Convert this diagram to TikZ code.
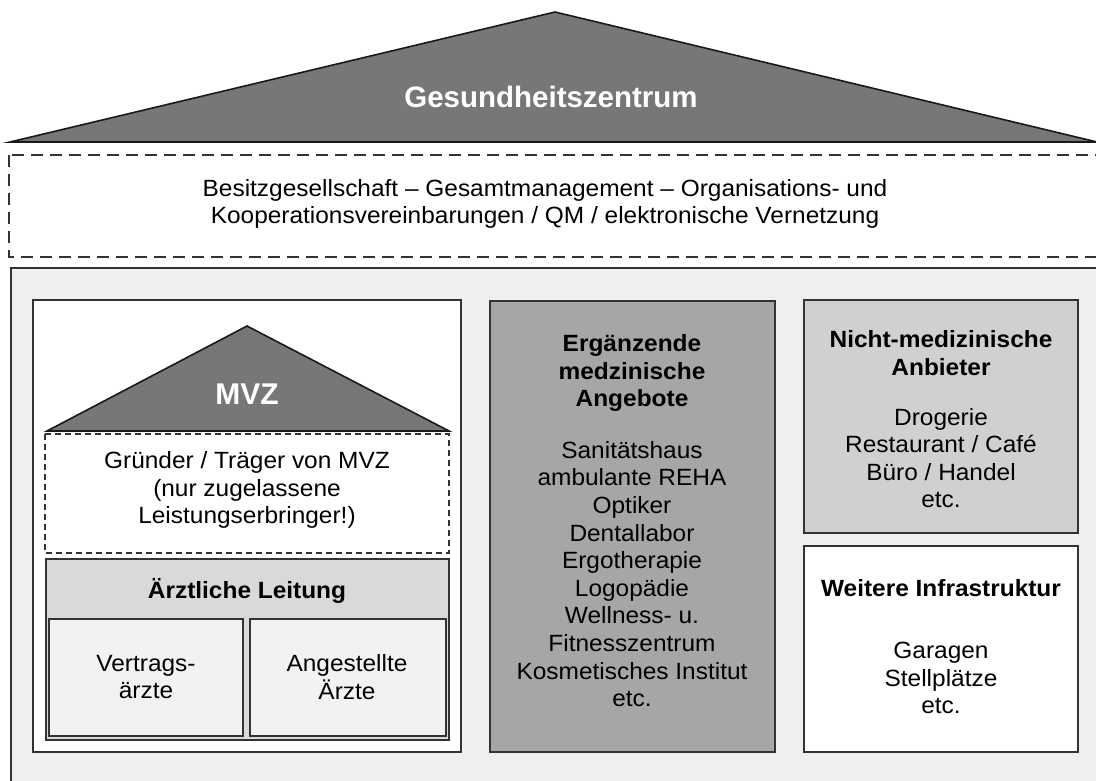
\documentclass[tikz,border=0pt]{standalone}
\usepackage{fontspec}
\setmainfont[FakeStretch=1.04]{Liberation Sans}
\newfontfamily\titlefont{Liberation Sans}
\begin{document}
\begin{tikzpicture}[x=1pt,y=-1pt,
  lbl/.style={align=center,inner sep=0pt,font=\fontsize{23.5}{27.6}\selectfont},
  blbl/.style={lbl,font=\fontsize{23.5}{27.6}\selectfont\bfseries},
  roofline/.style={draw=black!90,line width=1.6pt,fill=roofgray,line join=miter},
  boxline/.style={draw=black!80,line width=1.8pt},
]
\definecolor{roofgray}{HTML}{777777}
\definecolor{bggray}{HTML}{EFEFEF}
\definecolor{midgray}{HTML}{A6A6A6}
\definecolor{ltgray}{HTML}{D0D0D0}
\definecolor{hdgray}{HTML}{D9D9D9}
\definecolor{cellgray}{HTML}{F2F2F2}
\useasboundingbox (0,0) rectangle (1096,781);
\clip (0,0) rectangle (1096,781);
\fill[white] (0,0) rectangle (1096,781);
% main roof
\draw[roofline] (10,142) -- (555,12) -- (1097,142) -- cycle;
\node[font=\titlefont\fontsize{29.5}{34}\selectfont\bfseries,text=white] (title) at (551,97) {Gesundheitszentrum};
% dashed management box
\draw[draw=black!80,line width=1.8pt,dash pattern=on 12pt off 7pt] (9,155) rectangle (1102,257);
\node[lbl] (mgmt) at (545,204) {Besitzgesellschaft -- Gesamtmanagement -- Organisations- und\\Kooperationsvereinbarungen / QM / elektronische Vernetzung};
% big gray area
\draw[boxline,fill=bggray] (11,268) rectangle (1110,800);
% MVZ outer box
\draw[boxline,fill=white,line width=1.5pt] (33,300) rectangle (461,752);
\draw[roofline] (47,431) -- (247,326) -- (449,431) -- cycle;
\node[font=\titlefont\fontsize{30}{34}\selectfont\bfseries,text=white] (mvz) at (247,394) {MVZ};
\draw[draw=black!80,line width=1.4pt,dash pattern=on 6pt off 4pt,fill=white] (45,434) rectangle (449,553);
\node[lbl] (gruender) at (247,490) {Gründer / Träger von MVZ\\(nur zugelassene\\Leistungserbringer!)};
\draw[draw=black!80,line width=2.4pt,fill=hdgray] (46,559) rectangle (449,740);
\node[blbl] (leitung) at (247,591) {Ärztliche Leitung};
\draw[draw=black!80,line width=1.8pt,fill=cellgray] (49,619) rectangle (243,736);
\draw[draw=black!80,line width=1.8pt,fill=cellgray] (250,619) rectangle (446,736);
\node[lbl] (vertrag) at (146,677) {Vertrags-\\ärzte};
\node[lbl] (angest) at (347,677) {Angestellte\\Ärzte};
% middle box
\draw[boxline,fill=midgray] (490,301) rectangle (775,752);
\node[blbl] (ergtitle) at (632,373) {Ergänzende\\medzinische\\Angebote};
\node[lbl] (erglist) at (632,574) {Sanitätshaus\\ambulante REHA\\Optiker\\Dentallabor\\Ergotherapie\\Logopädie\\Wellness- u.\\Fitnesszentrum\\Kosmetisches Institut\\etc.};
% right boxes
\draw[boxline,fill=ltgray] (804,300) rectangle (1078,533);
\node[blbl] (nmtitle) at (941,353) {Nicht-medizinische\\Anbieter};
\node[lbl] (nmlist) at (941,458) {Drogerie\\Restaurant / Café\\Büro / Handel\\etc.};
\draw[boxline,fill=white] (804,546) rectangle (1078,752);
\node[blbl] (wtitle) at (941,588) {Weitere Infrastruktur};
\node[lbl] (wlist) at (941,678) {Garagen\\Stellplätze\\etc.};
\end{tikzpicture}
\end{document}
